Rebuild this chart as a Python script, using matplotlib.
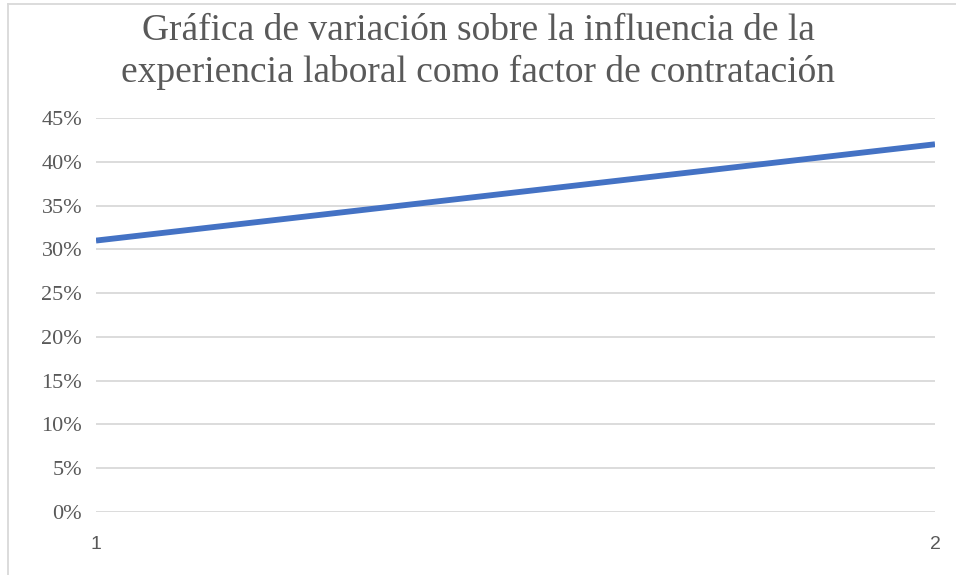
import matplotlib.pyplot as plt
from matplotlib.lines import Line2D
from matplotlib.ticker import FuncFormatter

# data
x_vals = [1, 2]
y_vals = [0.31, 0.42]
y_ticks = [0, 0.05, 0.10, 0.15, 0.20, 0.25, 0.30, 0.35, 0.40, 0.45]
title_lines = ['Gráfica de variación sobre la influencia de la',
               'experiencia laboral como factor de contratación']

W, H = 956, 575
fig = plt.figure(figsize=(W / 100, H / 100), dpi=100)
ax = fig.add_axes([96 / W, 1 - 512 / H, (935 - 96) / W, (512 - 118) / H])

ax.plot(x_vals, y_vals, color='#4472C4', linewidth=4.2, solid_capstyle='butt', zorder=3)

ax.set_xlim(1, 2)
ax.set_ylim(0, 0.45)
ax.set_yticks(y_ticks)
ax.yaxis.set_major_formatter(FuncFormatter(lambda v, p: f'{round(v * 100)}%'))
ax.set_xticks(x_vals)
ax.set_xticklabels([str(v) for v in x_vals])

ax.grid(axis='y', color='#D9D9D9', linewidth=1.3)
ax.set_axisbelow(True)
for s in ax.spines.values():
    s.set_visible(False)
ax.tick_params(length=0)
ax.tick_params(axis='y', pad=10, labelsize=16, labelcolor='#595959')
ax.tick_params(axis='x', pad=17, labelsize=14, labelcolor='#595959')
for lab in ax.get_yticklabels():
    lab.set_fontfamily(['Liberation Serif', 'DejaVu Serif'])
for lab in ax.get_xticklabels():
    lab.set_fontfamily(['Liberation Sans', 'DejaVu Sans'])

# title, two lines placed on their baselines
for line, base in zip(title_lines, [40, 82]):
    fig.text(0.5, 1 - base / H, line, ha='center', va='baseline', fontsize=27,
             color='#595959', family=['Liberation Serif', 'DejaVu Serif'])

# chart border
fig.add_artist(Line2D([8 / W, 8 / W], [0, 1 - 4 / H], color='#D9D9D9', lw=1.3))
fig.add_artist(Line2D([8 / W, 1], [1 - 4 / H, 1 - 4 / H], color='#D9D9D9', lw=1.3))

fig.savefig('out.png', dpi=100)
